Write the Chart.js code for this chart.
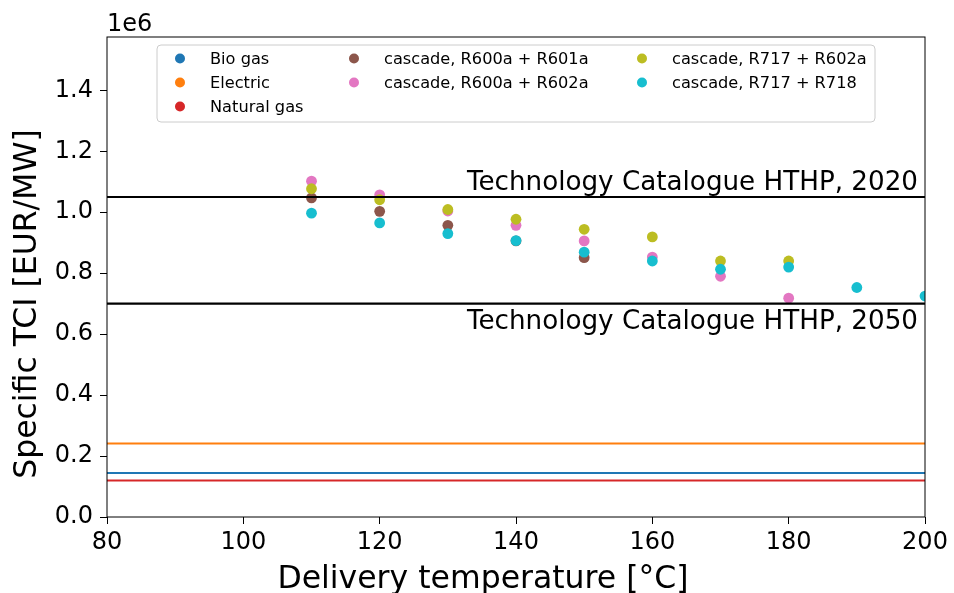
<!DOCTYPE html>
<html>
<head>
<meta charset="utf-8">
<script src="https://cdn.jsdelivr.net/npm/chart.js@4/dist/chart.umd.min.js"></script>
<style>
  html, body { margin: 0; padding: 0; background: #fff; }
  #wrap { width: 954px; height: 593px; }
</style>
</head>
<body>
<div id="wrap"><canvas id="chart" width="954" height="593"></canvas></div>
<script>
// Delivery temperature axis and specific total capital investment (EUR/MW)
const xTickValues = [80, 100, 120, 140, 160, 180, 200];
const yTickValues = [0, 200000, 400000, 600000, 800000, 1000000, 1200000, 1400000];

// Reference levels for conventional heat supply (flat over temperature)
const bioGasLevel = 144500;
const electricLevel = 241000;
const naturalGasLevel = 119500;

// Technology Catalogue reference levels for high-temperature heat pumps
const catalogue2020 = 1050000;
const catalogue2050 = 700000;

// Cascade heat pump results
const tempR600aR601a = [110, 120, 130, 140, 150];
const tciR600aR601a  = [1047000, 1003000, 957000, 906000, 851000];

const tempR600aR602a = [110, 120, 130, 140, 150, 160, 170, 180];
const tciR600aR602a  = [1102000, 1057000, 1004000, 957000, 906000, 853000, 790000, 718000];

const tempR717R602a = [110, 120, 130, 140, 150, 160, 170, 180];
const tciR717R602a  = [1077000, 1041000, 1009000, 977000, 944000, 919000, 840000, 840000];

const tempR717R718 = [110, 120, 130, 140, 150, 160, 170, 180, 190, 200];
const tciR717R718  = [997000, 965000, 930000, 907000, 869000, 840000, 813000, 820000, 753000, 725000];

const X_MIN = 80, X_MAX = 200, Y_MIN = 0, Y_MAX = 1575000;
const FONT = '"DejaVu Sans", sans-serif';
const X_TITLE = 'Delivery temperature [°C]';
const Y_TITLE = 'Specific TCI [EUR/MW]';

const toPoints = (xs, ys) => xs.map((x, i) => ({ x: x, y: ys[i] }));
const flat = (v) => [{ x: X_MIN, y: v }, { x: X_MAX, y: v }];

function levelLine(label, value, color, order, inLegend) {
  return {
    type: 'line', label: label, data: flat(value),
    borderColor: color, backgroundColor: color, borderWidth: 2,
    pointRadius: 0, pointHoverRadius: 0, fill: false, order: order,
    inLegend: inLegend
  };
}
function scatterSet(label, xs, ys, color, order) {
  return {
    type: 'scatter', label: label, data: toPoints(xs, ys),
    backgroundColor: color, borderColor: color, borderWidth: 0,
    pointRadius: 5.4, pointHoverRadius: 5.4, order: order, inLegend: true
  };
}

const datasets = [
  levelLine('Bio gas', bioGasLevel, '#1f77b4', 10, true),
  levelLine('Electric', electricLevel, '#ff7f0e', 10, true),
  levelLine('Natural gas', naturalGasLevel, '#d62728', 10, true),
  scatterSet('cascade, R600a + R601a', tempR600aR601a, tciR600aR601a, '#8c564b', 4),
  scatterSet('cascade, R600a + R602a', tempR600aR602a, tciR600aR602a, '#e377c2', 3),
  scatterSet('cascade, R717 + R602a', tempR717R602a, tciR717R602a, '#bcbd22', 2),
  scatterSet('cascade, R717 + R718', tempR717R718, tciR717R718, '#17becf', 1),
  Object.assign(levelLine('Technology Catalogue HTHP, 2020', catalogue2020, '#000', 0, false), { borderWidth: 2.2 }),
  Object.assign(levelLine('Technology Catalogue HTHP, 2050', catalogue2050, '#000', 0, false), { borderWidth: 2.2 })
];

// Frame around the plotting area, axis titles and the axis offset text
const framePlugin = {
  id: 'frame',
  afterDraw(chart) {
    const { ctx, chartArea: a } = chart;
    const cx = (a.left + a.right) / 2, cy = (a.top + a.bottom) / 2;
    ctx.save();
    ctx.strokeStyle = '#000';
    ctx.lineWidth = 1;
    ctx.strokeRect(a.left, a.top, a.right - a.left, a.bottom - a.top);
    ctx.fillStyle = '#000';
    ctx.font = '24px ' + FONT;
    ctx.textAlign = 'left';
    ctx.textBaseline = 'alphabetic';
    ctx.fillText('1e6', a.left, a.top - 6);

    ctx.font = '31.5px ' + FONT;
    ctx.textAlign = 'center';
    ctx.fillText(X_TITLE, cx - 33, chart.height - 5);
    ctx.translate(36, cy + 27);
    ctx.rotate(-Math.PI / 2);
    ctx.fillText(Y_TITLE, 0, 0);
    ctx.restore();
  }
};

// Labels for the two catalogue levels
const catalogueLabels = {
  id: 'catalogueLabels',
  afterDatasetsDraw(chart) {
    const { ctx, scales: { x, y } } = chart;
    ctx.save();
    ctx.fillStyle = '#000';
    ctx.font = '26.2px ' + FONT;
    ctx.textAlign = 'right';
    ctx.textBaseline = 'alphabetic';
    const xr = x.getPixelForValue(X_MAX) - 7;
    ctx.fillText('Technology Catalogue HTHP, 2020', xr, y.getPixelForValue(catalogue2020) - 7);
    ctx.fillText('Technology Catalogue HTHP, 2050', xr, y.getPixelForValue(catalogue2050) + 25);
    ctx.restore();
  }
};

// Three-column legend, filled column by column
const boxLegend = {
  id: 'boxLegend',
  afterDraw(chart) {
    const { ctx, chartArea: a } = chart;
    const items = chart.data.datasets.filter(d => d.inLegend);
    const ncol = 3;
    const base = Math.floor(items.length / ncol), extra = items.length % ncol;
    const left = a.left + 50, top = a.top + 8, w = 718, h = 77;
    const colMarker = [23, 197, 485], colText = [53, 227, 515];
    ctx.save();
    const r = 4;
    ctx.beginPath();
    ctx.moveTo(left + r, top);
    ctx.arcTo(left + w, top, left + w, top + h, r);
    ctx.arcTo(left + w, top + h, left, top + h, r);
    ctx.arcTo(left, top + h, left, top, r);
    ctx.arcTo(left, top, left + w, top, r);
    ctx.closePath();
    ctx.fillStyle = 'rgba(255,255,255,0.8)';
    ctx.fill();
    ctx.strokeStyle = '#cccccc';
    ctx.lineWidth = 1;
    ctx.stroke();
    ctx.font = '16.2px ' + FONT;
    ctx.textAlign = 'left';
    ctx.textBaseline = 'middle';
    let idx = 0;
    for (let c = 0; c < ncol; c++) {
      const n = base + (c < extra ? 1 : 0);
      for (let rI = 0; rI < n; rI++, idx++) {
        const it = items[idx];
        const rowY = top + 13.5 + 24 * rI;
        ctx.fillStyle = it.backgroundColor;
        ctx.beginPath();
        ctx.arc(left + colMarker[c], rowY, 5, 0, Math.PI * 2);
        ctx.fill();
        ctx.fillStyle = '#000';
        ctx.fillText(it.label, left + colText[c], rowY + 1);
      }
    }
    ctx.restore();
  }
};

const tickFont = { family: FONT, size: 24 };

new Chart(document.getElementById('chart').getContext('2d'), {
  type: 'scatter',
  data: { datasets: datasets },
  options: {
    responsive: false,
    animation: false,
    devicePixelRatio: 1,
    layout: { padding: { top: 37, right: 29, left: 0, bottom: 0 } },
    plugins: { legend: { display: false }, tooltip: { enabled: false } },
    events: [],
    scales: {
      x: {
        type: 'linear', min: X_MIN, max: X_MAX,
        afterBuildTicks: (s) => { s.ticks = xTickValues.map(v => ({ value: v })); },
        afterFit: (s) => { s.height = 76; },
        ticks: { color: '#000', font: tickFont, padding: 4, maxRotation: 0, autoSkip: false },
        grid: { drawOnChartArea: false, tickLength: 7, tickColor: '#000', tickWidth: 1 },
        border: { display: false },
        title: { display: false }
      },
      y: {
        type: 'linear', min: Y_MIN, max: Y_MAX,
        afterBuildTicks: (s) => { s.ticks = yTickValues.map(v => ({ value: v })); },
        afterFit: (s) => { s.width = 107; },
        ticks: { color: '#000', font: tickFont, padding: 7, autoSkip: false,
                 callback: (v) => (v / 1e6).toFixed(1) },
        grid: { drawOnChartArea: false, tickLength: 7, tickColor: '#000', tickWidth: 1 },
        border: { display: false },
        title: { display: false }
      }
    }
  },
  plugins: [catalogueLabels, framePlugin, boxLegend]
});
</script>
</body>
</html>
